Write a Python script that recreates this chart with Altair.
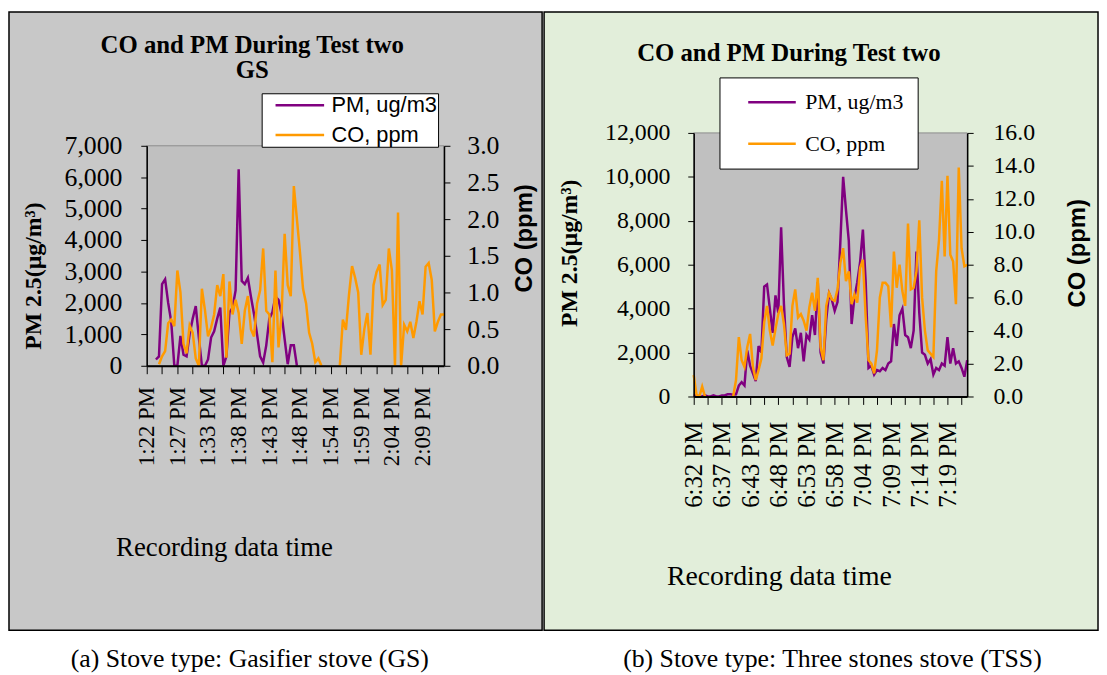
import altair as alt
import pandas as pd

# ---------------- data ----------------
N = None
gs_pm = [N, N, N, 200, 300, 2600, 2750, 2000, 1400, 0,
         0, 950, 350, 300, 1000, 1500, 1900, 900, 0, 0,
         200, 900, 1100, 1500, 1850, 0, 300, 1700, 1850, 2400,
         6250, 2700, 2600, 2800, 2200, 1650, 1000, 300, 100, 650,
         1500, 1700, 2200, 2100, 1650, 850, 50, 650, 650, 0,
         N, N, N, N, N, N, N, N, N, N,
         N, N, N, N, N, N, N, N, N, N,
         N, N, N, N, N, N, N, N, N, N,
         N, N, N, N, N, N, N, N, N, N,
         N, N, N, N, N, N, N, N]
gs_co = [N, N, N, N, 0.02, 0.13, 0.2, 0.58, 0.63, 0.54,
         1.3, 1.0, 0.3, 0.17, 0.55, 0.45, 0.1, 0.0, 1.05, 0.76,
         0.4, 0.52, 0.7, 1.1, 0.95, 1.25, 0.11, 1.15, 0.7, 0.9,
         0.72, 0.3, 0.75, 0.95, 0.5, 0.4, 0.85, 1.03, 1.6, 0.75,
         0.7, 0.05, 1.3, 0.25, 0.7, 1.8, 1.1, 0.95, 2.45, 2.0,
         1.55, 1.05, 0.85, 0.45, 0.3, 0.05, 0.1, 0.0, N, N,
         N, N, N, 0.0, 0.63, 0.49, 0.97, 1.36, 1.2, 1.0,
         0.15, 0.5, 0.72, 0.15, 1.1, 1.28, 1.38, 0.83, 0.9, 1.6,
         1.3, 0.0, 2.09, 0.0, 0.56, 0.47, 0.6, 0.38, 0.6, 0.88,
         0.7, 1.35, 1.4, 1.17, 0.47, 0.6, 0.7, 0.7]
gs_times = ["1:22 PM", "1:27 PM", "1:33 PM", "1:38 PM", "1:43 PM",
            "1:48 PM", "1:54 PM", "1:59 PM", "2:04 PM", "2:09 PM"]

tss_pm = [50, 50, 0, 0, 50, 0, 0, 50, 0, 0,
          50, 50, 100, 100, 80, 100, 500, 650, 500, 2100,
          1400, 1050, 700, 2300, 2000, 5000, 5100, 4000, 2900, 4600,
          3800, 7700, 4200, 1800, 1350, 2700, 3100, 2200, 2900, 1600,
          2800, 2600, 3700, 2800, 5200, 2000, 1500, 3500, 4700, 4400,
          3900, 4300, 7000, 10000, 8500, 7100, 3300, 4500, 5200, 6100,
          7600, 5200, 1300, 1400, 1000, 1200, 1150, 1300, 1200, 1500,
          1600, 3300, 2300, 3700, 4000, 2800, 2700, 2200, 3000, 6600,
          3800, 2000, 1900, 1500, 1700, 1000, 1300, 1200, 1500, 1400,
          2700, 1500, 2200, 1500, 1600, 1300, 900, 1650]
tss_co = [1.3, 0.1, 0.0, 0.6, 0.0, N, N, N, N, N,
          N, N, N, N, 0.0, 1.0, 3.6, 2.2, 1.8, 3.0,
          3.8, 1.8, 1.0, 1.6, 2.3, 4.5, 5.5, 4.0, 3.1, 4.1,
          5.0, 5.5, 4.4, 2.5, 2.6, 5.5, 6.5, 4.8, 5.0, 4.6,
          4.0, 5.4, 6.3, 5.2, 7.2, 3.0, 2.2, 5.5, 6.3, 5.9,
          5.8, 6.5, 8.1, 9.0, 7.0, 7.6, 5.6, 6.2, 5.7, 7.8,
          8.3, 4.8, 2.2, 2.0, 1.4, 2.8, 6.0, 6.9, 6.9, 6.7,
          4.2, 8.8, 6.6, 8.0, 6.4, 5.5, 10.5, 6.5, 6.6, 7.6,
          10.7, 6.0, 4.0, 2.8, 2.6, 2.4, 7.6, 9.5, 13.1, 8.5,
          13.4, 8.6, 8.2, 5.6, 13.9, 9.0, 7.9, 8.0]
tss_times = ["6:32 PM", "6:37 PM", "6:43 PM", "6:48 PM", "6:53 PM",
             "6:58 PM", "7:04 PM", "7:09 PM", "7:14 PM", "7:19 PM"]

series_names = ["PM, ug/m3", "CO, ppm"]

# ---------------- styling ----------------
PURPLE = "#800080"
ORANGE = "#FF9A00"
SERIF = "Liberation Serif"
SANS = "Liberation Sans"
NBSP = "\u00a0"


def one_row():
    return alt.Data(values=[{"k": 0}])


def text_layer(txt, x, y, size, weight="normal", font=SERIF):
    return alt.Chart(one_row()).mark_text(
        text=txt, font=font, fontSize=size, fontWeight=weight, color="black",
        align="center", baseline="middle"
    ).encode(x=alt.value(x), y=alt.value(y))


def panel(pm, co, times, c):
    w, H = c["w"], c["H"]
    top, bot = c["plot_y"]
    n = len(pm)
    df = pd.DataFrame({"idx": list(range(n)), "pm": pm, "co": co})
    base = alt.Chart(df)
    lab_arr = "[" + ",".join("'%s'" % t for t in times) + "]"
    x_axis = alt.Axis(
        values=list(range(0, n - 1, 5)), offset=bot - H,
        labelExpr="datum.value % 10 == 0 ? " + lab_arr + "[datum.value / 10] : ''",
        labelAngle=270, labelFont=SERIF, labelFontSize=c["xlab_font"], labelColor="black",
        labelPadding=c["xlab_pad"], labelOverlap=False, labelFlush=False, labelBound=False,
        tickSize=8, tickColor="black", tickWidth=1, domainColor="black", domainWidth=2,
        grid=False, title="Recording data time", titleFont=SERIF,
        titleFontSize=c["xt_size"], titleFontWeight="normal", titleColor="black",
        titleX=c["xt_x"], titleY=c["xt_y"], titleAlign="center", titleBaseline="middle",
        titleAngle=0, zindex=1)
    xenc = alt.X("idx:Q", scale=alt.Scale(domain=[0, n - 1], nice=False, zero=False), axis=x_axis)

    pm_vals = list(range(0, c["pm_max"] + 1, c["pm_step"]))
    co_vals = [round(i * c["co_step"], 2) for i in range(int(round(c["co_max"] / c["co_step"])) + 1)]

    pm_axis = alt.Axis(
        orient="left", values=pm_vals, format=",.0f", labelFont=SERIF, labelFontSize=c["ylab_font"],
        labelColor="black", labelPadding=c["ylab_pad_l"], tickSize=6, tickColor="black",
        domainColor="black", domainWidth=1.5, grid=False, labelFlush=False,
        title="PM 2.5(µg/m³)", titleFont=SERIF, titleFontWeight="bold",
        titleFontSize=c["pm_t_size"], titleColor="black", titleAngle=270,
        titleX=c["pm_t_x"], titleY=c["pm_t_y"], titleAlign="center", titleBaseline="middle",
        zindex=1)
    co_axis = alt.Axis(
        orient="right", values=co_vals, format=".1f", labelFont=SERIF, labelFontSize=c["ylab_font"],
        labelColor="black", labelPadding=c["ylab_pad_r"], tickSize=6, tickColor="black",
        domainColor="black", domainWidth=1.5, grid=False, labelFlush=False,
        title="CO (ppm)", titleFont=SANS, titleFontWeight="bold",
        titleFontSize=c["co_t_size"], titleColor="black", titleAngle=270,
        titleX=c["co_t_x"], titleY=c["co_t_y"], titleAlign="center", titleBaseline="middle",
        zindex=1)

    lg = c["legend"]
    legend = alt.Legend(
        orient="none", legendX=lg["x"], legendY=lg["y"], title=None,
        fillColor="white", strokeColor="black", padding=lg["pad"],
        symbolType="M-3,0H3", symbolSize=lg["sym_size"], symbolStrokeWidth=2.5,
        symbolOffset=lg["sym_off"], labelOffset=lg["lab_off"], labelFont=lg["font"],
        labelFontSize=lg["font_size"], labelColor="black", rowPadding=lg["row_pad"],
        labelExpr="datum.label + '" + NBSP * lg["extra"] + "'", direction="vertical",
        zindex=1)
    cscale = alt.Scale(domain=series_names, range=[PURPLE, ORANGE])

    pm_line = base.transform_calculate(series="'%s'" % series_names[0]).mark_line(strokeWidth=2.5).encode(
        x=xenc,
        y=alt.Y("pm:Q", scale=alt.Scale(domain=[0, c["pm_max"]], range=[bot, top], nice=False),
                axis=pm_axis),
        color=alt.Color("series:N", scale=cscale, legend=legend))
    co_line = base.transform_calculate(series="'%s'" % series_names[1]).mark_line(strokeWidth=2.5).encode(
        x=xenc,
        y=alt.Y("co:Q", scale=alt.Scale(domain=[0, c["co_max"]], range=[bot, top], nice=False),
                axis=co_axis),
        color=alt.Color("series:N", scale=cscale, legend=legend))

    px0, px1, py0, py1 = c["panel"]
    panel_bg = alt.Chart(one_row()).mark_rect(
        fill=c["panel_fill"], stroke="black", strokeWidth=1.5
    ).encode(x=alt.value(px0), x2=alt.value(px1), y=alt.value(py0), y2=alt.value(py1))
    plot_bg = alt.Chart(one_row()).mark_rect(
        fill="#C0C0C0", stroke="#8C8C8C", strokeWidth=1
    ).encode(x=alt.value(0), x2=alt.value(w), y=alt.value(top), y2=alt.value(bot))

    texts = [text_layer(t, x, y, s, "bold") for (t, x, y, s) in c["titles"]]
    cap, cx, cy = c["caption"]
    texts.append(text_layer(cap, cx, cy, 26))

    lines = alt.layer(pm_line, co_line).resolve_scale(y="independent")
    return alt.layer(panel_bg, plot_bg, lines, *texts).properties(width=w, height=H)


# both panels share the same group origin; positions are relative to it
left_cfg = dict(
    w=300, H=266, plot_y=(13, 235), panel=(-139, 399, -122, 502), panel_fill="#C8C8C8",
    pm_max=7000, pm_step=1000, co_max=3.0, co_step=0.5,
    ylab_font=26, xlab_font=23, xlab_pad=13, ylab_pad_l=19, ylab_pad_r=17,
    pm_t_x=-114, pm_t_y=144, pm_t_size=24, co_t_x=81, co_t_y=106, co_t_size=24,
    xt_x=78, xt_y=183, xt_size=27,
    titles=[("CO and PM During Test two", 106.5, -89, 25), ("GS", 106.5, -63, 25)],
    caption=("(a) Stove type: Gasifier stove (GS)", 104, 531),
    legend=dict(x=116, y=-40, pad=1, sym_size=267, sym_off=26.5, lab_off=21,
                font=SANS, font_size=22, row_pad=8, extra=3),
)
right_cfg = dict(
    w=276, H=266, plot_y=(0, 266), panel=(-151, 408, -122, 502), panel_fill="#E2EEDA",
    pm_max=12000, pm_step=2000, co_max=16.0, co_step=2.0,
    ylab_font=24, xlab_font=25, xlab_pad=17, ylab_pad_l=18, ylab_pad_r=20,
    pm_t_x=-125, pm_t_y=121, pm_t_size=24, co_t_x=111, co_t_y=121, co_t_size=24,
    xt_x=86, xt_y=182, xt_size=28,
    titles=[("CO and PM During Test two", 96, -81, 25)],
    caption=("(b) Stove type: Three stones stove (TSS)", 140, 531),
    legend=dict(x=26, y=-56, pad=14, sym_size=256, sym_off=28, lab_off=22.5,
                font=SERIF, font_size=22, row_pad=20, extra=4),
)

left = panel(gs_pm, gs_co, gs_times, left_cfg)
right = panel(tss_pm, tss_co, tss_times, right_cfg)

chart = alt.hconcat(left, right, spacing=0).resolve_scale(
    color="independent", x="independent", y="independent"
).resolve_legend(color="independent").properties(
    padding={"left": 0, "top": 0, "right": 0, "bottom": 0}
).configure(background="white").configure_view(stroke=None)

chart.save("out.html", embed_options={"renderer": "svg", "actions": False})
